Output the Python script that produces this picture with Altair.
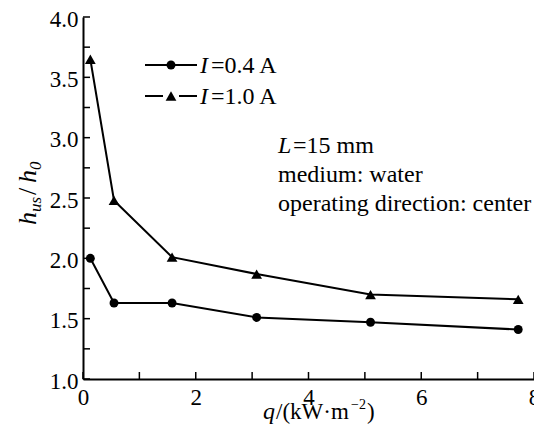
import altair as alt
import pandas as pd

# data
q = [0.13, 0.55, 1.58, 3.08, 5.10, 7.72]
h_04 = [2.00, 1.63, 1.63, 1.51, 1.47, 1.41]
h_10 = [3.65, 2.48, 2.01, 1.87, 1.70, 1.66]
series = ["I=0.4 A", "I=1.0 A"]

x_ticks = [0, 1, 2, 3, 4, 5, 6, 7, 8]
x_labels = [0, 2, 4, 6, 8]
y_ticks = [1.0, 1.25, 1.5, 1.75, 2.0, 2.25, 2.5, 2.75, 3.0, 3.25, 3.5, 3.75, 4.0]
y_labels = [1.0, 1.5, 2.0, 2.5, 3.0, 3.5, 4.0]

FONT = "'Liberation Serif', 'Times New Roman', Times, 'DejaVu Serif', serif"
W, H = 451, 362

df = pd.DataFrame({
    "q": q + q,
    "h": h_04 + h_10,
    "series": [series[0]] * len(q) + [series[1]] * len(q),
})

x_enc = alt.X("q:Q", scale=alt.Scale(domain=[0, 8], nice=False, zero=False),
              axis=alt.Axis(values=x_labels, format="d", ticks=False, tickSize=0, grid=False,
                            domainWidth=2, domainColor="black", labelFont=FONT,
                            labelFontSize=23, labelColor="black", labelPadding=7,
                            labelFlush=False, title=None))
y_enc = alt.Y("h:Q", scale=alt.Scale(domain=[1, 4], nice=False, zero=False),
              axis=alt.Axis(values=y_labels, format=".1f", ticks=False, tickSize=0, grid=False,
                            domainWidth=2, domainColor="black", labelFont=FONT,
                            labelFontSize=23, labelColor="black", labelPadding=5,
                            labelOffset=2, labelFlush=False, title=None))

base = alt.Chart(df).encode(x=x_enc, y=y_enc)
lines = base.mark_line(color="black", strokeWidth=2).encode(detail="series:N")
pts_c = base.transform_filter(alt.datum.series == series[0]).mark_point(
    filled=True, color="black", opacity=1, shape="circle", size=80)
pts_t = base.transform_filter(alt.datum.series == series[1]).mark_point(
    filled=True, color="black", opacity=1, shape="triangle-up", size=115)

xt = alt.Chart(pd.DataFrame({"q": x_ticks})).mark_rule(color="black", strokeWidth=1.5).encode(
    x=x_enc, y=alt.value(H), y2=alt.value(H - 7))
yt = alt.Chart(pd.DataFrame({"h": y_ticks})).mark_rule(color="black", strokeWidth=1.5).encode(
    y=y_enc, x=alt.value(0), x2=alt.value(7))

def txt(s, x, y, size=22, italic=False, angle=0, align="left", baseline="alphabetic"):
    kw = dict(text=s, font=FONT, fontSize=size, color="black", align=align, baseline=baseline)
    if italic:
        kw["fontStyle"] = "italic"
    if angle:
        kw["angle"] = angle
    return alt.Chart(pd.DataFrame({"a": [0]})).mark_text(**kw).encode(
        x=alt.value(x), y=alt.value(y))

def seg(x1, x2, y):
    return alt.Chart(pd.DataFrame({"a": [0]})).mark_rule(color="black", strokeWidth=2).encode(
        x=alt.value(x1), x2=alt.value(x2), y=alt.value(y))

def sym(shape, x, y, size):
    return alt.Chart(pd.DataFrame({"a": [0]})).mark_point(
        filled=True, color="black", opacity=1, shape=shape, size=size).encode(
        x=alt.value(x), y=alt.value(y))

# legend (drawn by hand to get italic I)
leg = [
    seg(62, 114, 48), sym("circle", 88, 48, 80),
    txt("I", 117, 56, italic=True, size=24), txt("=0.4 A", 128, 56, size=24),
    seg(62, 80, 79), seg(96, 114, 79), sym("triangle-up", 88, 79, 115),
    txt("I", 117, 87, italic=True, size=24), txt("=1.0 A", 128, 87, size=24),
]

notes = [
    txt("L", 195, 136, italic=True, size=24), txt("=15 mm", 210, 136, size=24),
    txt("medium: water", 195, 165, size=24),
    txt("operating direction: center", 195, 194, size=24),
]

# axis titles
xtitle = [
    txt("q", 180, 402, italic=True, size=24),
    txt("/(kW·m", 193, 402, size=23),
    txt("−2", 268, 392, size=14),
    txt(")", 284, 402, size=23),
]
ytitle = [
    txt("h", -47, 208, italic=True, size=26, angle=270),
    txt("us", -42, 195, italic=True, size=17, angle=270),
    txt("/", -47, 178, size=26, angle=270),
    txt("h", -47, 166, italic=True, size=26, angle=270),
    txt("0", -42, 153, italic=True, size=17, angle=270),
]

chart = alt.layer(lines, pts_c, pts_t, xt, yt, *leg, *notes, *xtitle, *ytitle).properties(
    width=W, height=H,
    autosize="none",
    padding={"left": 75, "top": 9, "right": 0, "bottom": 45},
).configure_view(stroke=None)

chart.save("out.html", embed_options={"renderer": "svg", "actions": False})
